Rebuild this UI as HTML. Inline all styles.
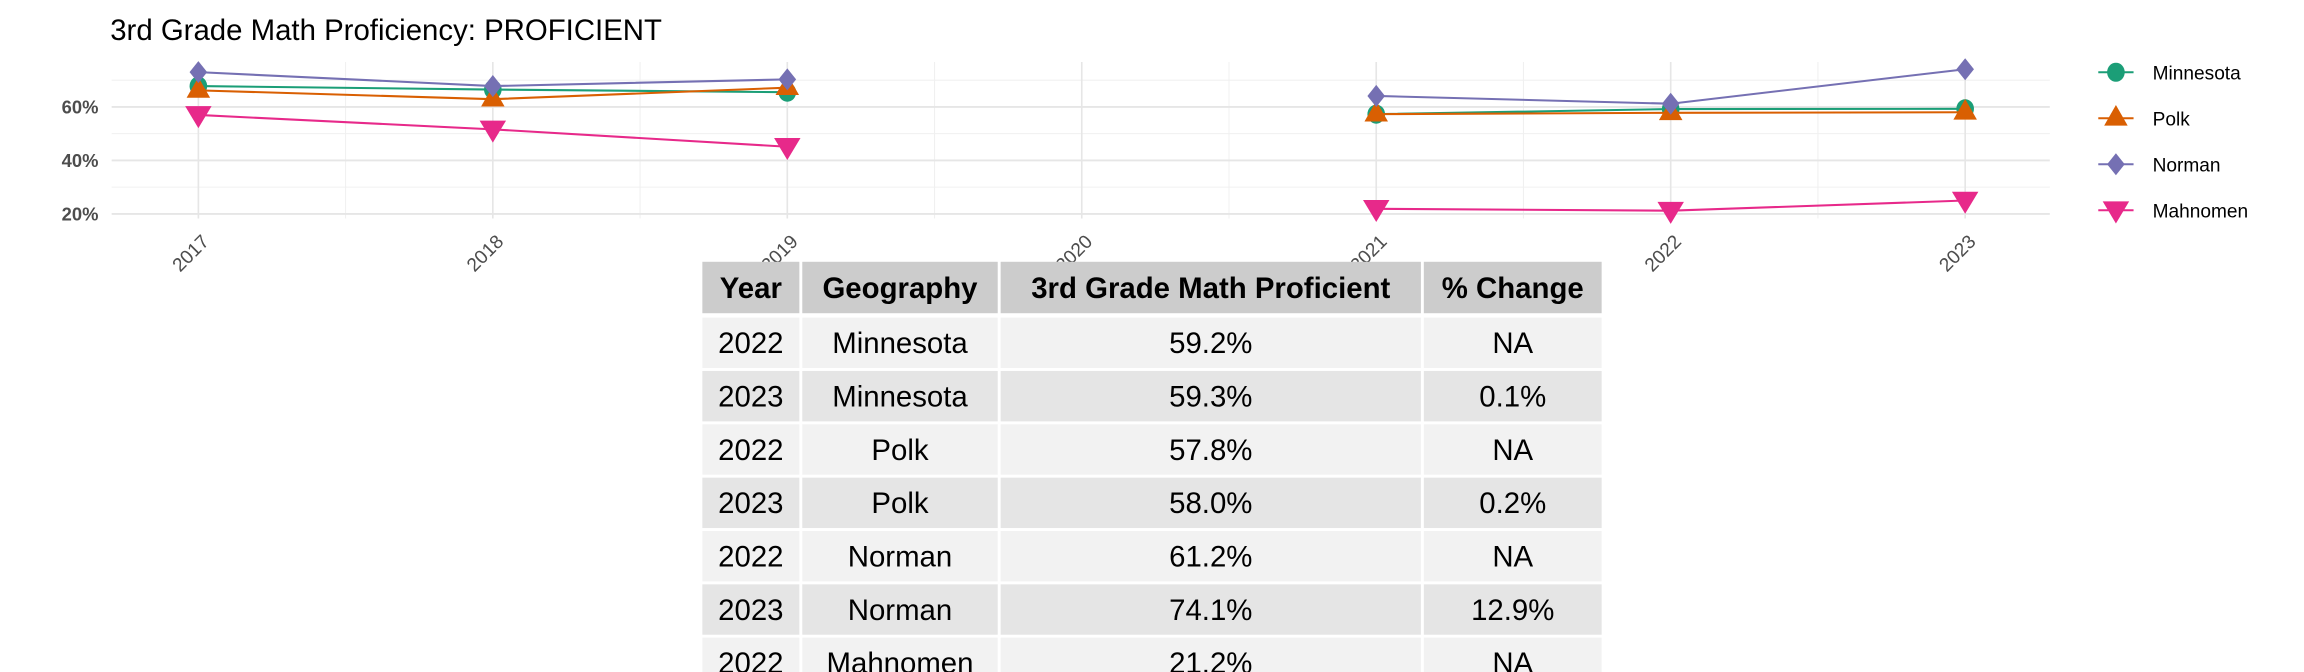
<!DOCTYPE html>
<html><head><meta charset="utf-8"><style>
html,body{margin:0;padding:0;background:#fff;}
svg{display:block;font-family:"Liberation Sans",Arial,sans-serif;}
</style></head><body>
<svg id="chart" width="2304" height="672" viewBox="0 0 1568 457" xmlns="http://www.w3.org/2000/svg">
<text x="75" y="27" font-size="20" fill="#000">3rd Grade Math Proficiency: PROFICIENT</text>
<g id="grid"></g><g id="series"></g><g id="axes"></g><g id="legend"></g><g id="table"></g>
</svg>
<script>
const years = [2017, 2018, 2019, 2020, 2021, 2022, 2023];
const seriesNames = ["Minnesota", "Polk", "Norman", "Mahnomen"];
const minnesota = [67.8, 66.5, 65.5, null, 57.3, 59.2, 59.3];
const polk = [66.2, 62.9, 67.2, null, 57.3, 57.8, 58.0];
const norman = [73.0, 67.8, 70.3, null, 64.1, 61.2, 74.1];
const mahnomen = [57.0, 51.6, 45.1, null, 21.9, 21.2, 25.0];
const yTicks = [20, 40, 60];
const yMinor = [30, 50, 70];
const tableHeader = ["Year", "Geography", "3rd Grade Math Proficient", "% Change"];
const tableRows = [
 ["2022","Minnesota","59.2%","NA"],["2023","Minnesota","59.3%","0.1%"],
 ["2022","Polk","57.8%","NA"],["2023","Polk","58.0%","0.2%"],
 ["2022","Norman","61.2%","NA"],["2023","Norman","74.1%","12.9%"],
 ["2022","Mahnomen","21.2%","NA"]];

const NS="http://www.w3.org/2000/svg";
function mk(p,t,a){const e=document.createElementNS(NS,t);for(const k in a)e.setAttribute(k,a[k]);p.appendChild(e);return e;}
const X=y=>135+(y-2017)*200.4;
const Y=v=>72.6-(v-60)*1.82;
const PL=76,PR=1395,PT=42,PB=148.5;
const grid=document.getElementById('grid');
yMinor.forEach(v=>{const l=mk(grid,'line',{x1:PL,x2:PR,y1:Y(v),y2:Y(v),stroke:'#f0f0f0','stroke-width':0.7});

});
years.slice(0,-1).forEach(y=>{const l=mk(grid,'line',{x1:X(y+0.5),x2:X(y+0.5),y1:PT,y2:PB,stroke:'#f0f0f0','stroke-width':0.7});

});
yTicks.forEach(v=>{const l=mk(grid,'line',{x1:PL,x2:PR,y1:Y(v),y2:Y(v),stroke:'#e6e6e6','stroke-width':1.3});


const t=mk(grid,'text',{x:67,y:Y(v)+4.5,'text-anchor':'end','font-size':12.5,'font-weight':'bold',fill:'#4d4d4d'});t.textContent=v+'%';

});
years.forEach(y=>{const l=mk(grid,'line',{x1:X(y),x2:X(y),y1:PT,y2:PB,stroke:'#e6e6e6','stroke-width':1.1});


const t=mk(grid,'text',{x:0,y:0,'text-anchor':'end','font-size':13,fill:'#4d4d4d',transform:`translate(${X(y)+8},${165}) rotate(-45)`});t.textContent=y;

});

const colors=['#1b9e77','#d95f02','#7570b3','#e7298a'];
const data=[minnesota,polk,norman,mahnomen];
function marker(g,i,x,y){let e;
 if(i===0)e=mk(g,'ellipse',{cx:x,cy:y,rx:6,ry:6.5,fill:colors[i]});
 else if(i===1)e=mk(g,'polygon',{points:`${x},${y-9} ${x+8},${y+5} ${x-8},${y+5}`,fill:colors[i]});
 else if(i===2)e=mk(g,'polygon',{points:`${x},${y-7.5} ${x+6},${y} ${x},${y+7.5} ${x-6},${y}`,fill:colors[i]});
 else e=mk(g,'polygon',{points:`${x-9},${y-6} ${x+9},${y-6} ${x},${y+9}`,fill:colors[i]});
 return e;}
const sg=document.getElementById('series');
data.forEach((arr,i)=>{const g=mk(sg,'g',{});
 
 
 let seg=[];const segs=[];
 arr.forEach((v,j)=>{if(v==null){if(seg.length)segs.push(seg);seg=[];}else seg.push([X(years[j]),Y(v)]);});
 if(seg.length)segs.push(seg);
 segs.forEach(s=>{const p=mk(g,'polyline',{points:s.map(q=>q.join(',')).join(' '),fill:'none',stroke:colors[i],'stroke-width':1.4});
  
  });
 arr.forEach((v,j)=>{if(v==null)return;const m=marker(g,i,X(years[j]),Y(v));
  
  });
});
const lg=document.getElementById('legend');
seriesNames.forEach((n,i)=>{const y=49+i*31.3;const g=mk(lg,'g',{});
 
 
 mk(g,'line',{x1:1428,x2:1452,y1:y,y2:y,stroke:colors[i],'stroke-width':1.4});
 marker(g,i,1440,y);
 const t=mk(g,'text',{x:1465,y:y+5,'font-size':13,fill:'#000'});t.textContent=n;});

const tb=document.getElementById('table');
const colX=[478,546,681,969],colW=[66,133,286,121];
function row(vals,y,h,bg,bold,name){const g=mk(tb,'g',{});
 
 
 vals.forEach((v,c)=>{mk(g,'rect',{x:colX[c],y:y,width:colW[c],height:h,fill:bg});
  const t=mk(g,'text',{x:colX[c]+colW[c]/2,y:y+h/2+7,'text-anchor':'middle','font-size':20,'font-weight':bold?'bold':'normal',fill:'#000'});t.textContent=v;});}
row(tableHeader,178,35,'#cccccc',true,'table-header');
tableRows.forEach((r,i)=>row(r,216+i*36.3,34.3,i%2?'#e5e5e5':'#f2f2f2',false,'table-row'));
</script>
</body></html>
